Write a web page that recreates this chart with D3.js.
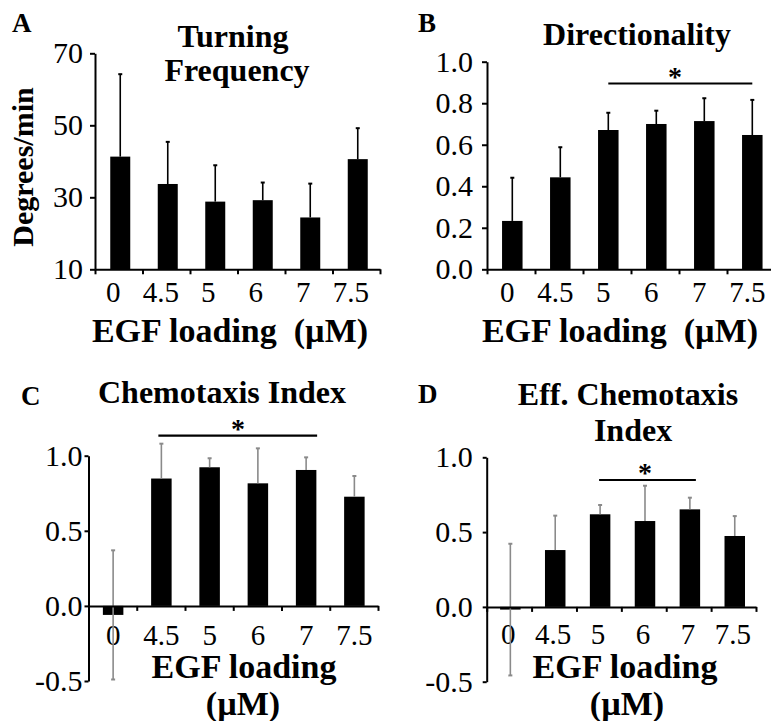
<!DOCTYPE html>
<html>
<head>
<meta charset="utf-8">
<script src="https://cdn.jsdelivr.net/npm/d3@7"></script>
<style>
  body { margin: 0; background: #fff; }
</style>
</head>
<body>
<script>
// EGF loading concentrations (x categories, same for all four panels)
var doses = ["0", "4.5", "5", "6", "7", "7.5"];

// A - turning frequency (degrees/min), mean and upper error
var turnMean = [41.3, 33.7, 28.8, 29.2, 24.4, 40.6];
var turnErr = [22.9, 11.7, 10.1, 4.9, 9.4, 8.6];
var turnTicks = [10, 30, 50, 70];

// B - directionality
var dirMean = [0.233, 0.443, 0.671, 0.700, 0.714, 0.647];
var dirErr = [0.208, 0.145, 0.083, 0.064, 0.110, 0.169];
var dirTicks = [0, 0.2, 0.4, 0.6, 0.8, 1.0];

// C - chemotaxis index
var ciMean = [-0.06, 0.848, 0.923, 0.816, 0.905, 0.727];
var ciErr = [0.43, 0.232, 0.06, 0.233, 0.084, 0.138];

// D - effective chemotaxis index
var eciMean = [-0.018, 0.38, 0.619, 0.574, 0.652, 0.474];
var eciErr = [0.44, 0.23, 0.062, 0.236, 0.078, 0.133];
var ciTicks = [-0.5, 0, 0.5, 1.0];

var serif = "'Liberation Serif', 'Times New Roman', Times, serif";

var svg = d3.select("body")
  .append("svg")
    .attr("width", 771)
    .attr("height", 721)
    .attr("font-family", serif);

svg.append("rect").attr("width", 771).attr("height", 721).attr("fill", "#fff");

function fmt1(d) { return d.toFixed(1); }

function drawPanel(p) {
  var x = d3.scaleBand().domain(doses).range([p.left, p.right]);
  var xb = d3.scaleLinear().domain([0, doses.length]).range([p.left, p.right]);
  var y = d3.scaleLinear().domain(p.domain).range([p.bottom, p.top]);
  var base = p.domain[0] > 0 ? p.domain[0] : 0;
  var g = svg.append("g");
  var cx = function(d) { return x(d) + x.bandwidth() / 2 + p.shift; };

  // bars
  g.selectAll(".bar")
    .data(p.mean)
    .enter()
    .append("rect")
    .attr("x", function(d, i) { return cx(doses[i]) - p.barW / 2; })
    .attr("width", p.barW)
    .attr("y", function(d) { return y(Math.max(d, base)); })
    .attr("height", function(d) { return Math.max(1.5, Math.abs(y(d) - y(base))); })
    .attr("fill", "#000");

  // x tick labels
  g.selectAll(".xl")
    .data(doses)
    .enter()
    .append("text")
    .attr("x", function(d) { return cx(d) + p.labDx; })
    .attr("y", y(base) + p.labDy)
    .attr("text-anchor", "middle")
    .style("font-family", serif)
    .style("font-size", "29px")
    .text(function(d) { return d; });

  // error bars (up only, both ways for negative bars)
  p.mean.forEach(function(v, i) {
    var e = p.err[i];
    var xc = cx(doses[i]);
    var yTop = y(v + e);
    var yBot = v < 0 ? y(v - e) : y(v);
    g.append("line")
      .attr("x1", xc).attr("x2", xc).attr("y1", yBot).attr("y2", yTop)
      .attr("stroke", p.errColor).attr("stroke-width", 1.6);
    g.append("line")
      .attr("x1", xc - 2).attr("x2", xc + 2).attr("y1", yTop).attr("y2", yTop)
      .attr("stroke", p.errColor).attr("stroke-width", 2);
    if (v < 0) {
      g.append("line")
        .attr("x1", xc - 2).attr("x2", xc + 2).attr("y1", yBot).attr("y2", yBot)
        .attr("stroke", p.errColor).attr("stroke-width", 2);
    }
  });

  // y axis
  var ya = g.append("g")
    .attr("transform", "translate(" + p.left + ",0)")
    .call(d3.axisLeft(y).tickValues(p.ticks).tickSize(p.tickLen).tickSizeOuter(0)
      .tickPadding(p.yPad).tickFormat(p.fmt));
  ya.attr("font-family", serif);
  ya.select(".domain").attr("stroke-width", 2);
  ya.selectAll(".tick line").attr("stroke-width", 2);
  ya.selectAll("text")
    .style("font-family", serif)
    .style("font-size", "30px")
    .attr("fill", "#000");

  // x axis with ticks at category boundaries
  var xa = g.append("g")
    .attr("transform", "translate(0," + y(base) + ")")
    .call(d3.axisBottom(xb).tickValues(d3.range(doses.length + 1)).tickSize(5)
      .tickSizeOuter(0).tickFormat(""));
  xa.select(".domain").attr("stroke-width", 2);
  xa.selectAll(".tick line").attr("stroke-width", 2);

  // significance bar
  if (p.sig) {
    var sx0 = cx(doses[p.sig[0]]) + p.sigPad[0];
    var sx1 = cx(doses[p.sig[1]]) + p.sigPad[1];
    g.append("line")
      .attr("x1", sx0).attr("x2", sx1).attr("y1", p.sigY).attr("y2", p.sigY)
      .attr("stroke", "#000").attr("stroke-width", 2.2);
    g.append("text")
      .attr("x", p.starX).attr("y", p.sigY + 2)
      .attr("text-anchor", "middle")
      .style("font-family", serif)
      .style("font-size", "28px").style("font-weight", "bold")
      .text("*");
  }

  // title lines
  p.title.forEach(function(t) {
    g.append("text")
      .attr("x", t[1]).attr("y", t[2])
      .attr("text-anchor", "middle")
      .style("font-family", serif)
      .style("font-size", "32px").style("font-weight", "bold")
      .text(t[0]);
  });

  // x axis title lines
  p.xTitle.forEach(function(t) {
    g.append("text")
      .attr("x", t[1]).attr("y", t[2])
      .attr("text-anchor", "middle")
      .style("font-family", serif)
      .style("font-size", "34px").style("font-weight", "bold")
      .text(t[0]);
  });

  // panel letter
  g.append("text")
    .attr("x", p.letter[1]).attr("y", p.letter[2])
    .style("font-family", serif)
    .style("font-size", "27px").style("font-weight", "bold")
    .text(p.letter[0]);
}

// A
drawPanel({
  mean: turnMean, err: turnErr, ticks: turnTicks, domain: [10, 70], fmt: d3.format("d"),
  left: 95, right: 380, top: 53.3, bottom: 269.3, shift: 1.5, barW: 20,
  tickLen: 5, yPad: 7, labDx: -7, labDy: 33, errColor: "#000",
  title: [["Turning", 233, 46.5], ["Frequency", 237, 81]],
  xTitle: [["EGF loading\u00a0 (\u00b5M)", 230, 342]],
  letter: ["A", 12, 32]
});

// B
drawPanel({
  mean: dirMean, err: dirErr, ticks: dirTicks, domain: [0, 1], fmt: fmt1,
  left: 487, right: 775, top: 61.7, bottom: 269.3, shift: 1.3, barW: 20.5,
  tickLen: 5, yPad: 9, labDx: -5, labDy: 33, errColor: "#000",
  sig: [2, 5], sigPad: [0, 0], sigY: 83.5, starX: 675,
  title: [["Directionality", 637, 44.5]],
  xTitle: [["EGF loading\u00a0 (\u00b5M)", 620, 342]],
  letter: ["B", 418, 32]
});

// C
drawPanel({
  mean: ciMean, err: ciErr, ticks: ciTicks, domain: [-0.5, 1], fmt: fmt1,
  left: 88.5, right: 378, top: 455.7, bottom: 681, shift: 0.5, barW: 20.5,
  tickLen: 4, yPad: 2, labDx: 0, labDy: 39, errColor: "#8a8a8a",
  sig: [1, 4], sigPad: [-3, 11], sigY: 435.7, starX: 238,
  title: [["Chemotaxis Index", 222, 403]],
  xTitle: [["EGF loading", 244, 678], ["(\u00b5M)", 243, 715]],
  letter: ["C", 21, 405]
});

// D
drawPanel({
  mean: eciMean, err: eciErr, ticks: ciTicks, domain: [-0.5, 1], fmt: fmt1,
  left: 486.7, right: 756, top: 457.3, bottom: 681.7, shift: 1.2, barW: 20.5,
  tickLen: 4, yPad: 10, labDx: -2, labDy: 37, errColor: "#8a8a8a",
  sig: [2, 4], sigPad: [-1, 6], sigY: 480, starX: 645,
  title: [["Eff. Chemotaxis", 628, 405], ["Index", 633, 441]],
  xTitle: [["EGF loading", 625, 678], ["(\u00b5M)", 627, 715]],
  letter: ["D", 418, 403]
});

// y label for A
svg.append("text")
  .attr("transform", "translate(33,167) rotate(-90)")
  .attr("text-anchor", "middle")
  .style("font-family", serif)
  .style("font-size", "30px").style("font-weight", "bold")
  .text("Degrees/min");
</script>
</body>
</html>
